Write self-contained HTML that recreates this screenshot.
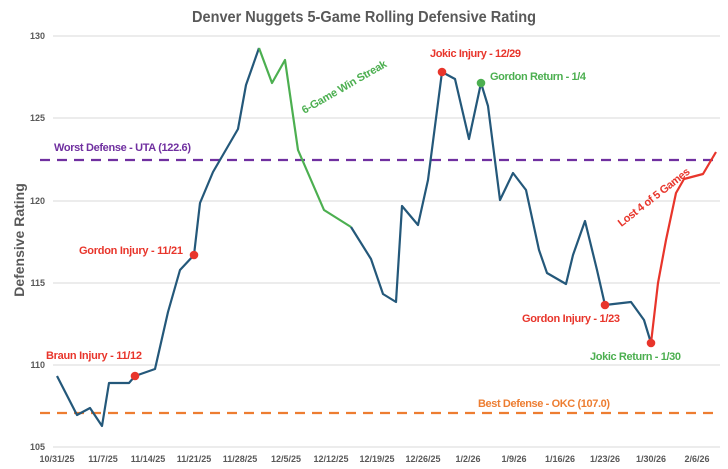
<!DOCTYPE html>
<html><head><meta charset="utf-8"><style>
body{margin:0;background:#fff}
svg{display:block;font-family:"Liberation Sans",sans-serif;font-weight:bold}
</style></head><body>
<svg width="728" height="469" viewBox="0 0 728 469">
<rect width="728" height="469" fill="#fff"/>
<text x="192" y="22" textLength="344" lengthAdjust="spacingAndGlyphs" font-size="16" fill="#595959">Denver Nuggets 5-Game Rolling Defensive Rating</text>
<g stroke="#d9d9d9" stroke-width="1">
<line x1="53" x2="720" y1="36" y2="36"/><line x1="53" x2="720" y1="118" y2="118"/>
<line x1="53" x2="720" y1="201" y2="201"/><line x1="53" x2="720" y1="283" y2="283"/>
<line x1="53" x2="720" y1="365" y2="365"/><line x1="53" x2="720" y1="447" y2="447"/>
</g>
<g font-size="9" fill="#595959" text-anchor="end">
<text x="45" y="39">130</text><text x="45" y="121">125</text><text x="45" y="204">120</text>
<text x="45" y="286">115</text><text x="45" y="368">110</text><text x="45" y="450">105</text>
</g>
<text transform="translate(24,240) rotate(-90)" text-anchor="middle" font-size="14" fill="#595959">Defensive Rating</text>
<g font-size="9" fill="#595959" text-anchor="middle">
<text x="57" y="462">10/31/25</text><text x="103" y="462">11/7/25</text><text x="148" y="462">11/14/25</text>
<text x="194" y="462">11/21/25</text><text x="240" y="462">11/28/25</text><text x="286" y="462">12/5/25</text>
<text x="331" y="462">12/12/25</text><text x="377" y="462">12/19/25</text><text x="423" y="462">12/26/25</text>
<text x="468" y="462">1/2/26</text><text x="514" y="462">1/9/26</text><text x="560" y="462">1/16/26</text>
<text x="605" y="462">1/23/26</text><text x="651" y="462">1/30/26</text><text x="697" y="462">2/6/26</text>
</g>
<line x1="40" x2="720" y1="160" y2="160" stroke="#7030a0" stroke-width="2.2" stroke-dasharray="10,7"/>
<line x1="40" x2="720" y1="413" y2="413" stroke="#ed7d31" stroke-width="2.2" stroke-dasharray="10,7"/>
<g fill="none" stroke-width="2.2" stroke-linejoin="round">
<polyline stroke="#24587a" points="57,376 77,415 90,408 102,426 109,383 129,383 135,376 155,369 168,312 180,270 194,255 200,203 213,172 238,129 246,85 259,48"/>
<polyline stroke="#4caf50" points="259,48 272,83 285,60 298,150 324,210 351,227"/>
<polyline stroke="#24587a" points="351,227 371,259 383,294 396,302 402,206 418,225 428,180 442,72 455,79 469,139 481,83 488,106 500,200 513,173 526,190 539,250 547,273 566,284 573,255 585,221 597,270 605,305 631,302 644,320 651,343"/>
<polyline stroke="#e8352b" points="651,343 658,283 666,240 676,193 684,179 703,174 716,152"/>
</g>
<g fill="#e8352b"><circle cx="135" cy="376" r="4.3"/><circle cx="194" cy="255" r="4.3"/><circle cx="442" cy="72" r="4.3"/><circle cx="605" cy="305" r="4.3"/><circle cx="651" cy="343" r="4.3"/></g>
<circle cx="481" cy="83" r="4.3" fill="#4caf50"/>
<g font-size="11" lengthAdjust="spacingAndGlyphs">
<text x="54" y="151" textLength="137" fill="#7030a0">Worst Defense - UTA (122.6)</text>
<text x="478" y="407" textLength="132" fill="#ed7d31">Best Defense - OKC (107.0)</text>
<text x="430" y="57" textLength="91" fill="#e8352b">Jokic Injury - 12/29</text>
<text x="490" y="80" textLength="96" fill="#4caf50">Gordon Return - 1/4</text>
<text x="79" y="254" textLength="104" fill="#e8352b">Gordon Injury - 11/21</text>
<text x="46" y="359" textLength="96" fill="#e8352b">Braun Injury - 11/12</text>
<text x="522" y="322" textLength="98" fill="#e8352b">Gordon Injury - 1/23</text>
<text x="590" y="360" textLength="91" fill="#4caf50">Jokic Return - 1/30</text>
<text transform="translate(346,90) rotate(-30)" text-anchor="middle" textLength="96" fill="#4caf50">6-Game Win Streak</text>
<text transform="translate(656,200) rotate(-38)" text-anchor="middle" textLength="88" fill="#e8352b">Lost 4 of 5 Games</text>
</g>
</svg>
</body></html>
